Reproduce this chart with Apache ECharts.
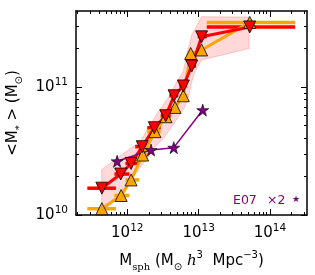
<!DOCTYPE html>
<html>
<head>
<meta charset="utf-8">
<script src="https://cdn.jsdelivr.net/npm/echarts@6/dist/echarts.min.js"></script>
<style>
html,body{margin:0;padding:0;background:#fff;}
#chart{width:315px;height:275px;}
</style>
</head>
<body>
<div id="chart"></div>
<script>
// ---------- data ----------
const redX   = [4.4e11, 8.1e11, 1.13e12, 1.62e12, 2.39e12, 3.46e12, 4.52e12, 6.1e12, 8.0e12, 1.10e13, 5.2e13];
const redY   = [1.62e10, 2.09e10, 2.53e10, 3.42e10, 4.81e10, 5.97e10, 8.55e10, 1.02e11, 1.46e11, 2.47e11, 2.95e11];
const redXlo = [2.75e11, 6.6e11, 9.4e11, 1.29e12, 1.9e12, 2.94e12, 3.88e12, 5.36e12, 7.1e12, 9.7e12, 1.3e13];
const redXhi = [6.93e11, 1.07e12, 1.47e12, 1.97e12, 2.94e12, 4.06e12, 5.19e12, 6.93e12, 9.2e12, 1.3e13, 2.25e14];

const orgX   = [4.4e11, 8.2e11, 1.13e12, 1.64e12, 2.44e12, 3.49e12, 4.67e12, 6.1e12, 7.74e12, 1.10e13, 5.2e13];
const orgY   = [1.12e10, 1.42e10, 1.88e10, 2.94e10, 4.48e10, 5.86e10, 6.93e10, 8.55e10, 1.83e11, 1.95e11, 3.2e11];
const orgXlo = [2.75e11, 6.6e11, 9.4e11, 1.29e12, 1.9e12, 2.94e12, 3.88e12, 5.36e12, 7.0e12, 9.7e12, 1.3e13];
const orgXhi = [6.93e11, 1.07e12, 1.47e12, 1.97e12, 2.94e12, 4.06e12, 5.19e12, 6.93e12, 8.8e12, 1.25e13, 2.25e14];

const e07X = [7.2e11, 2.15e12, 4.48e12, 1.14e13];
const e07Y = [2.63e10, 3.22e10, 3.36e10, 6.61e10];

const bandUpperX = [4.38e11, 7.1e11, 1.03e12, 1.51e12, 2.08e12, 2.72e12, 3.97e12, 4.93e12, 6.1e12, 6.8e12, 8.0e12, 1.10e13, 5.1e13];
const bandUpperY = [2.27e10, 2.77e10, 3.22e10, 3.74e10, 5.05e10, 6.41e10, 8.66e10, 1.10e11, 1.32e11, 1.78e11, 2.55e11, 3.54e11, 3.52e11];
const bandLowerX = [4.38e11, 5.4e11, 7.5e11, 1.03e12, 1.43e12, 1.97e12, 2.44e12, 3.2e12, 4.2e12, 5.2e12, 6.4e12, 7.2e12, 8.0e12, 8.9e12, 1.10e13, 5.1e13];
const bandLowerY = [1.2e10, 1.23e10, 1.43e10, 1.77e10, 2.25e10, 2.85e10, 3.42e10, 3.97e10, 4.9e10, 5.86e10, 7.0e10, 8.4e10, 1.10e11, 1.32e11, 1.63e11, 2.0e11];

const xMajorTicks = [1e12, 1e13, 1e14];
const xMinorTicks = [2e11,3e11,4e11,5e11,6e11,7e11,8e11,9e11,
                     2e12,3e12,4e12,5e12,6e12,7e12,8e12,9e12,
                     2e13,3e13,4e13,5e13,6e13,7e13,8e13,9e13,
                     2e14,3e14];
const yMajorTicks = [1e10, 1e11];
const yMinorTicks = [2e10,3e10,4e10,5e10,6e10,7e10,8e10,9e10,2e11,3e11];

const xMin = 1.91e11, xMax = 3.3e14;
const yMin = 1e10, yMax = 3.93e11;

const legendText = ['E07', '×2', '★'];

// ---------- styles ----------
const RED = '#ff0000', ORANGE = '#ffa500', PURPLE = '#800080';
const FONT = 'DejaVu Sans';
const STAR = 'path://M50,0 L61.2,34.5 L97.6,34.5 L68.2,55.9 L79.4,90.5 L50,69.1 L20.6,90.5 L31.8,55.9 L2.4,34.5 L38.8,34.5 Z';
const gridPos = {left: 76, right: 8, top: 11, bottom: 60, outerBoundsMode: 'none', containLabel: false};

function tickLabel(v) {
  const e = Math.round(Math.log10(v));
  return '{b|10}{s|' + e + '}';
}
const labelRich = {
  b: {fontFamily: FONT, fontSize: 15, lineHeight: 20, color: '#000', verticalAlign: 'middle'},
  s: {fontFamily: FONT, fontSize: 10.5, lineHeight: 9, color: '#000', verticalAlign: 'top'}
};

function majorAxis(pos, ticks, showLabel, gridIndex, min, max) {
  return {
    type: 'log', logBase: 10, gridIndex: gridIndex, position: pos, min: min, max: max,
    axisLine: {show: true, onZero: false, lineStyle: {color: '#000', width: 1.5}},
    axisTick: {show: true, inside: true, length: 6, lineStyle: {color: '#000', width: 1}, customValues: ticks},
    axisLabel: {show: showLabel, customValues: ticks, formatter: tickLabel, rich: labelRich, margin: 8},
    splitLine: {show: false}, minorTick: {show: false}
  };
}
function minorAxis(pos, ticks, gridIndex, min, max) {
  return {
    type: 'log', logBase: 10, gridIndex: gridIndex, position: pos, min: min, max: max,
    axisLine: {show: false},
    axisTick: {show: true, inside: true, length: 3, lineStyle: {color: '#000', width: 1}, customValues: ticks},
    axisLabel: {show: false},
    splitLine: {show: false}
  };
}

const xName = '{t|M}{sub|sph}{t| (M}{sun|⊙}{t| }{it|h}{sup|3}{t|  Mpc}{sup|−3}{t|)}';
const yName = '{t|<M}{sub|*}{t| > (M}{sun|⊙}{t|)}';
const nameRich = {
  t:  {fontFamily: FONT, fontSize: 15, lineHeight: 22, color: '#000'},
  it: {fontFamily: 'DejaVu Serif', fontStyle: 'italic', fontSize: 15, lineHeight: 22, color: '#000'},
  sub:{fontFamily: 'DejaVu Serif', fontSize: 10, lineHeight: 12, verticalAlign: 'bottom', color: '#000'},
  sun:{fontFamily: FONT, fontSize: 10, lineHeight: 8, verticalAlign: 'bottom', color: '#000'},
  sup:{fontFamily: FONT, fontSize: 10, lineHeight: 14, verticalAlign: 'top', color: '#000'}
};

const xBottom = majorAxis('bottom', xMajorTicks, true, 0, xMin, xMax);
xBottom.name = xName; xBottom.nameLocation = 'middle'; xBottom.nameGap = 35;
xBottom.nameTextStyle = {rich: nameRich};
const yLeft = majorAxis('left', yMajorTicks, true, 0, yMin, yMax);
yLeft.name = yName; yLeft.nameLocation = 'middle'; yLeft.nameGap = 52; yLeft.nameRotate = 90;
yLeft.nameTextStyle = {rich: nameRich};

const chart = echarts.init(document.getElementById('chart'), null, {renderer: 'canvas'});

function barsData(lo, hi, y) { return lo.map((l, i) => [l, hi[i], y[i]]); }
function barSeries(lo, hi, y, color) {
  return {
    type: 'custom', xAxisIndex: 0, yAxisIndex: 0,
    encode: {x: [0, 1], y: 2},
    data: barsData(lo, hi, y),
    renderItem: function (params, api) {
      const a = api.coord([api.value(0), api.value(2)]);
      const b = api.coord([api.value(1), api.value(2)]);
      return {type: 'line', shape: {x1: a[0], y1: a[1], x2: b[0], y2: b[1]},
              style: {stroke: color, lineWidth: 3.5}};
    },
    silent: true
  };
}

chart.setOption({
  animation: false,
  backgroundColor: '#fff',
  grid: [Object.assign({}, gridPos), Object.assign({}, gridPos)],
  xAxis: [
    xBottom,
    majorAxis('top', xMajorTicks, false, 0, xMin, xMax),
    minorAxis('bottom', xMinorTicks, 1, xMin, xMax),
    minorAxis('top', xMinorTicks, 1, xMin, xMax)
  ],
  yAxis: [
    yLeft,
    majorAxis('right', yMajorTicks, false, 0, yMin, yMax),
    minorAxis('left', yMinorTicks, 1, yMin, yMax),
    minorAxis('right', yMinorTicks, 1, yMin, yMax)
  ],
  series: [
    {
      type: 'custom', xAxisIndex: 0, yAxisIndex: 0,
      data: [[bandUpperX[0], bandUpperY[0]]],
      renderItem: function (params, api) {
        const pts = [];
        for (let i = 0; i < bandUpperX.length; i++) pts.push(api.coord([bandUpperX[i], bandUpperY[i]]));
        for (let i = bandLowerX.length - 1; i >= 0; i--) pts.push(api.coord([bandLowerX[i], bandLowerY[i]]));
        return {type: 'polygon', shape: {points: pts},
                style: {fill: 'rgba(255,0,0,0.15)', stroke: 'rgba(255,60,60,0.25)', lineWidth: 1}};
      },
      silent: true
    },
    barSeries(orgXlo, orgXhi, orgY, ORANGE),
    {
      type: 'line', xAxisIndex: 0, yAxisIndex: 0,
      data: orgX.map((x, i) => [x, orgY[i]]),
      lineStyle: {color: ORANGE, width: 3},
      symbol: 'triangle', symbolSize: 12,
      itemStyle: {color: ORANGE, borderColor: '#000', borderWidth: 0.8},
      silent: true
    },
    barSeries(redXlo, redXhi, redY, RED),
    {
      type: 'line', xAxisIndex: 0, yAxisIndex: 0,
      data: redX.map((x, i) => [x, redY[i]]),
      lineStyle: {color: RED, width: 3},
      symbol: 'triangle', symbolRotate: 180, symbolSize: 12,
      itemStyle: {color: RED, borderColor: '#000', borderWidth: 0.8},
      silent: true
    },
    {
      type: 'line', xAxisIndex: 0, yAxisIndex: 0,
      data: e07X.map((x, i) => [x, e07Y[i]]),
      lineStyle: {color: PURPLE, width: 1.5},
      symbol: STAR, symbolSize: 12,
      itemStyle: {color: PURPLE, borderColor: '#000', borderWidth: 0.6},
      silent: true
    }
  ],
  graphic: [
    {type: 'text', x: 233, y: 201, silent: true,
     style: {text: legendText[0], fontFamily: FONT, fontSize: 12.5, fill: PURPLE, align: 'left', verticalAlign: 'middle'}},
    {type: 'text', x: 267, y: 201, silent: true,
     style: {text: legendText[1], fontFamily: FONT, fontSize: 12.5, fill: PURPLE, align: 'left', verticalAlign: 'middle'}},
    {type: 'text', x: 292, y: 200, silent: true,
     style: {text: legendText[2], fontFamily: FONT, fontSize: 9, fill: PURPLE, align: 'left', verticalAlign: 'middle'}}
  ]
});
</script>
</body>
</html>
